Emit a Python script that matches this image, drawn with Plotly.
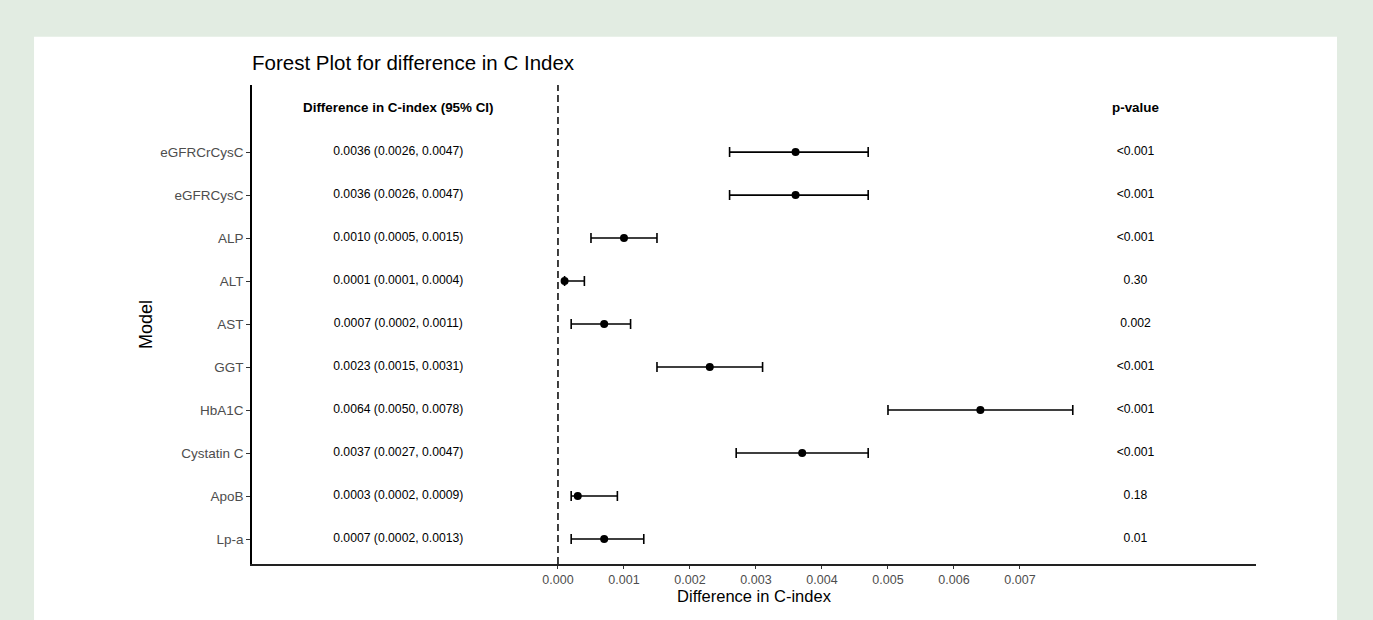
import plotly.graph_objects as go

models = ["eGFRCrCysC", "eGFRCysC", "ALP", "ALT", "AST", "GGT", "HbA1C", "Cystatin C", "ApoB", "Lp-a"]
estimate = [0.0036, 0.0036, 0.0010, 0.0001, 0.0007, 0.0023, 0.0064, 0.0037, 0.0003, 0.0007]
lower = [0.0026, 0.0026, 0.0005, 0.0001, 0.0002, 0.0015, 0.0050, 0.0027, 0.0002, 0.0002]
upper = [0.0047, 0.0047, 0.0015, 0.0004, 0.0011, 0.0031, 0.0078, 0.0047, 0.0009, 0.0013]
ci_text = ["0.0036 (0.0026, 0.0047)", "0.0036 (0.0026, 0.0047)", "0.0010 (0.0005, 0.0015)",
           "0.0001 (0.0001, 0.0004)", "0.0007 (0.0002, 0.0011)", "0.0023 (0.0015, 0.0031)",
           "0.0064 (0.0050, 0.0078)", "0.0037 (0.0027, 0.0047)", "0.0003 (0.0002, 0.0009)",
           "0.0007 (0.0002, 0.0013)"]
p_values = ["<0.001", "<0.001", "<0.001", "0.30", "0.002", "<0.001", "<0.001", "<0.001", "0.18", "0.01"]
x_ticks = [0.000, 0.001, 0.002, 0.003, 0.004, 0.005, 0.006, 0.007]
x_tick_labels = ["0.000", "0.001", "0.002", "0.003", "0.004", "0.005", "0.006", "0.007"]

n = len(models)
ypos = [n - i for i in range(n)]  # eGFRCrCysC at top
header_y = n + 1
ci_x = -0.00242
p_x = 0.00875

FONT = "Liberation Sans, Arial, sans-serif"

fig = go.Figure()

fig.add_trace(go.Scatter(
    x=estimate, y=ypos, mode="markers",
    marker=dict(color="black", size=8),
    error_x=dict(type="data", symmetric=False,
                 array=[u - e for u, e in zip(upper, estimate)],
                 arrayminus=[e - l for e, l in zip(estimate, lower)],
                 color="black", thickness=1.6, width=5),
    showlegend=False, hoverinfo="skip",
))

fig.add_trace(go.Scatter(
    x=[ci_x] * n, y=ypos, mode="text", text=ci_text,
    textfont=dict(family=FONT, size=12.2, color="black"),
    textposition="middle center", showlegend=False, hoverinfo="skip",
))
fig.add_trace(go.Scatter(
    x=[p_x] * n, y=ypos, mode="text", text=p_values,
    textfont=dict(family=FONT, size=12.2, color="black"),
    textposition="middle center", showlegend=False, hoverinfo="skip",
))
fig.add_trace(go.Scatter(
    x=[ci_x, p_x], y=[header_y, header_y], mode="text",
    text=["<b>Difference in C-index (95% CI)</b>", "<b>p-value</b>"],
    textfont=dict(family=FONT, size=13.4, color="black"),
    textposition="middle center", showlegend=False, hoverinfo="skip",
))

# white panel over green page background
fig.add_shape(type="rect", xref="paper", yref="paper",
              x0=-0.2171, x1=1.0807, y0=-0.2, y1=1.1008,
              fillcolor="white", line=dict(width=0), layer="below")
# dashed reference line at 0
fig.add_shape(type="line", xref="x", yref="paper", x0=0, x1=0, y0=0, y1=1,
              line=dict(color="black", width=1.5, dash="7px,4px"))

fig.update_layout(
    width=1373, height=620,
    paper_bgcolor="#e2ece2", plot_bgcolor="white",
    margin=dict(l=252, r=117, t=85, b=56),
    font=dict(family=FONT, color="black"),
    title=dict(text="Forest Plot for difference in C Index", x=0, xref="paper",
               xanchor="left", y=1 - 63 / 620, yref="container", yanchor="middle",
               font=dict(family=FONT, size=20.5, color="black")),
    xaxis=dict(range=[-0.004636, 0.010576], tickvals=x_ticks, ticktext=x_tick_labels,
               showgrid=False, zeroline=False, showline=True, linecolor="#222", linewidth=1.6,
               ticks="outside", ticklen=3, tickcolor="#333",
               tickfont=dict(family=FONT, size=12.5, color="#4d4d4d"),
               title=dict(text="Difference in C-index", standoff=2,
                          font=dict(family=FONT, size=16.5, color="black"))),
    yaxis=dict(range=[0.42, 11.56], tickvals=ypos, ticktext=models,
               showgrid=False, zeroline=False, showline=True, linecolor="black", linewidth=1.5,
               ticks="outside", ticklen=4, tickcolor="#333",
               tickfont=dict(family=FONT, size=13.5, color="#4d4d4d"),
               title=dict(text="Model", standoff=3,
                          font=dict(family=FONT, size=18, color="black"))),
)

fig.write_html("out.html", config={"displayModeBar": False},
               post_script="document.body.style.margin='0px';document.body.style.overflow='hidden';")
